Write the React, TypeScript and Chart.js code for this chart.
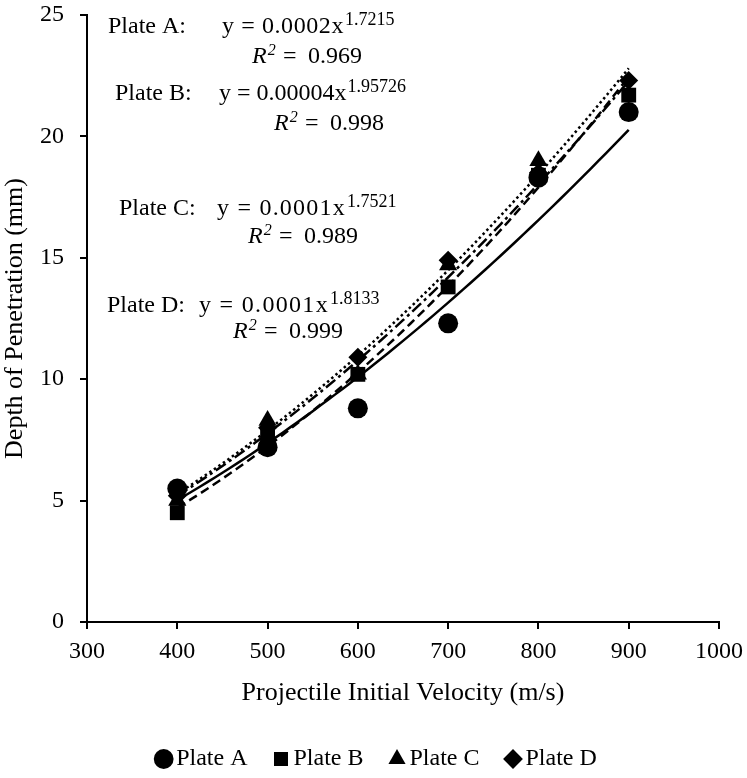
import React, { useEffect, useRef } from 'react';
import { Chart, registerables } from 'chart.js';

Chart.register(...registerables);

// ---- data ----
const velocities = [400, 500, 600, 700, 800, 900];
const plateA = [5.5, 7.2, 8.8, 12.3, 18.3, 21.0];
const plateB = [4.5, 7.7, 10.2, 13.8, 18.4, 21.7];
const plateC = [5.0, 8.3, 10.2, 14.7, 19.0, 21.0];
const plateD = [5.2, 8.0, 10.9, 14.9, 18.5, 22.3];
const seriesNames = ['Plate A', 'Plate B', 'Plate C', 'Plate D'];
const xTickRange = [300, 1000, 100];
const yTickRange = [0, 25, 5];

// fit annotations (text)
const fitNames = ['Plate A:', 'Plate B:', 'Plate C:', 'Plate D:'];
const fitEquations = ['y = 0.0002x', 'y = 0.00004x', 'y = 0.0001x', 'y = 0.0001x'];
const fitExponents = ['1.7215', '1.95726', '1.7521', '1.8133'];
const fitR2 = ['0.969', '0.998', '0.989', '0.999'];

// annotation layout (pixels): [nameX, eqX, supX, line1Y, r2X, line2Y]
const notePos = [
  [108, 222, 345, 33, 252, 63],
  [115, 219, 343, 100, 274, 130],
  [119, 217, 347, 215, 248, 243],
  [107, 199, 330, 312, 233, 338],
];

const FONT = "'Liberation Serif', 'Times New Roman', Times, serif";

function powerFit(xs: number[], ys: number[]) {
  const n = xs.length;
  const lx = xs.map((v) => Math.log(v));
  const ly = ys.map((v) => Math.log(v));
  const mx = lx.reduce((s, v) => s + v, 0) / n;
  const my = ly.reduce((s, v) => s + v, 0) / n;
  let sxy = 0;
  let sxx = 0;
  for (let i = 0; i < n; i++) {
    sxy += (lx[i] - mx) * (ly[i] - my);
    sxx += (lx[i] - mx) * (lx[i] - mx);
  }
  const b = sxy / sxx;
  const a = Math.exp(my - b * mx);
  return { a, b };
}

const notesPlugin = {
  id: 'fitNotes',
  afterDraw(chart: any) {
    const ctx = chart.ctx as any;
    ctx.save();
    ctx.fillStyle = '#000';
    ctx.textAlign = 'left';
    ctx.textBaseline = 'alphabetic';
    for (let i = 0; i < fitNames.length; i++) {
      const [nx, ex, sx, y1, rx, y2] = notePos[i];
      ctx.font = `24px ${FONT}`;
      ctx.letterSpacing = '0px';
      ctx.fillText(fitNames[i], nx, y1);
      const eq = fitEquations[i];
      const w0 = ctx.measureText(eq).width;
      const extra = Math.max(0, (sx - ex - 1 - w0) / eq.length);
      ctx.letterSpacing = `${extra.toFixed(2)}px`;
      ctx.fillText(eq, ex, y1);
      const w1 = ctx.measureText(eq).width;
      ctx.letterSpacing = '0px';
      const supX = Math.max(sx, ex + w1 + 1);
      ctx.font = `18px ${FONT}`;
      ctx.fillText(fitExponents[i], supX, y1 - 8);
      ctx.font = `italic 24px ${FONT}`;
      ctx.fillText('R', rx, y2);
      const rw = ctx.measureText('R').width;
      ctx.font = `italic 16px ${FONT}`;
      ctx.fillText('2', rx + rw + 1, y2 - 8);
      ctx.font = `24px ${FONT}`;
      ctx.fillText('=', rx + 31, y2);
      ctx.fillText(fitR2[i], rx + 56, y2);
    }
    ctx.restore();
  },
};

export default function App() {
  const ref = useRef<HTMLCanvasElement>(null);

  useEffect(() => {
    if (!ref.current) return;
    const series = [plateA, plateB, plateC, plateD];
    const styles = ['circle', 'rect', 'triangle', 'rectRot'];
    const radii = [10, 10.5, 10.5, 9.5];
    const dashes: number[][] = [[], [9, 5], [12, 4, 3, 4], [2.5, 3]];

    const scatterSets = series.map((ys, i) => ({
      type: 'scatter' as const,
      label: seriesNames[i],
      data: velocities.map((x, j) => ({ x, y: ys[j] })),
      pointStyle: styles[i],
      pointRadius: radii[i],
      pointHoverRadius: radii[i],
      backgroundColor: '#000',
      borderColor: '#000',
      borderWidth: 0,
      showLine: false,
      order: 0,
    }));

    const trendSets = series.map((ys, i) => {
      const { a, b } = powerFit(velocities, ys);
      const x0 = Math.min(...velocities);
      const x1 = Math.max(...velocities);
      const pts: { x: number; y: number }[] = [];
      const steps = 60;
      for (let k = 0; k <= steps; k++) {
        const x = x0 + ((x1 - x0) * k) / steps;
        pts.push({ x, y: a * Math.pow(x, b) });
      }
      return {
        type: 'line' as const,
        label: seriesNames[i] + ' trend',
        data: pts,
        borderColor: '#000',
        borderWidth: 2.5,
        borderDash: dashes[i],
        pointRadius: 0,
        pointHoverRadius: 0,
        fill: false,
        tension: 0,
        order: 1,
      };
    });

    const chart = new Chart(ref.current, {
      type: 'scatter',
      data: { datasets: [...scatterSets, ...trendSets] as any },
      options: {
        animation: false,
        responsive: true,
        maintainAspectRatio: false,
        layout: { padding: { top: 0, right: -13, left: 0, bottom: -3 } },
        plugins: {
          tooltip: { enabled: false },
          legend: {
            position: 'bottom',
            labels: {
              usePointStyle: true,
              boxWidth: 1,
              boxHeight: 14,
              padding: 33,
              color: '#000',
              font: { family: FONT, size: 24 },
              filter: (item: any) => item.datasetIndex < 4,
            },
          },
        },
        scales: {
          x: {
            type: 'linear',
            min: xTickRange[0],
            max: xTickRange[1],
            ticks: {
              stepSize: xTickRange[2],
              color: '#000',
              font: { family: FONT, size: 24 },
              padding: 8,
              callback: (v: any) => String(v),
            },
            grid: { drawOnChartArea: false, drawTicks: true, tickLength: 7, color: '#000', lineWidth: 2 },
            border: { display: true, color: '#000', width: 2 },
            title: {
              display: true,
              text: 'Projectile Initial Velocity (m/s)',
              color: '#000',
              font: { family: FONT, size: 26 },
              padding: { top: 4, bottom: 5 },
            },
            afterFit: (scale: any) => {
              scale.height = 92;
              scale.paddingRight = 28;
              scale.paddingLeft = 0;
            },
          },
          y: {
            type: 'linear',
            min: yTickRange[0],
            max: yTickRange[1],
            ticks: {
              stepSize: yTickRange[2],
              color: '#000',
              font: { family: FONT, size: 24 },
              padding: 16,
              callback: (v: any) => String(v),
            },
            grid: { drawOnChartArea: false, drawTicks: true, tickLength: 7, color: '#000', lineWidth: 2 },
            border: { display: true, color: '#000', width: 2 },
            title: {
              display: true,
              text: 'Depth of Penetration (mm)',
              color: '#000',
              font: { family: FONT, size: 26 },
              padding: { top: 0, bottom: 4 },
            },
            afterFit: (scale: any) => {
              scale.width = 87;
              scale.paddingTop = 15;
              scale.paddingBottom = 0;
            },
          },
        },
      },
      plugins: [notesPlugin],
    });
    return () => chart.destroy();
  }, []);

  return (
    <div style={{ position: 'fixed', left: 0, top: 0, width: 747, height: 778, background: '#fff' }}>
      <canvas ref={ref} />
    </div>
  );
}
